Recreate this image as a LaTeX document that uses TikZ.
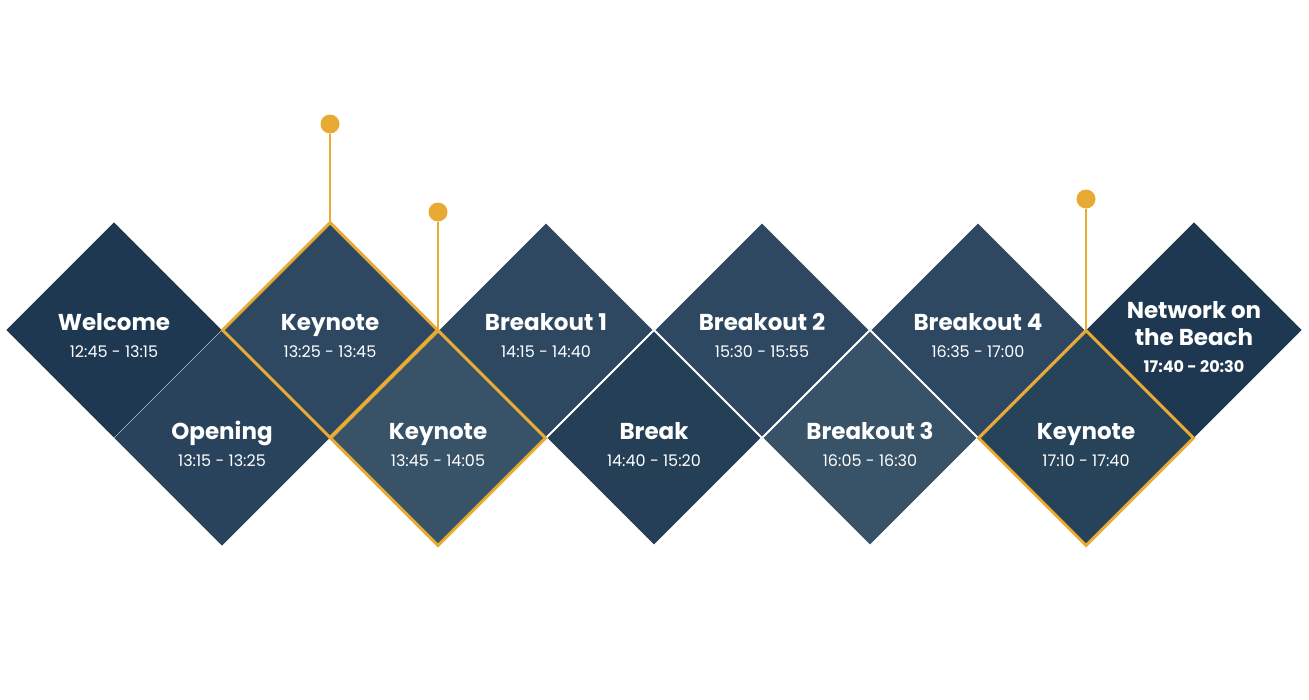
\documentclass[tikz,border=0pt]{standalone}
\usepackage{fontspec}
\setmainfont{Poppins}
\usetikzlibrary{shapes.geometric}

\definecolor{navyA}{HTML}{1E3852}
\definecolor{navyB}{HTML}{29435C}
\definecolor{navyC}{HTML}{2E4861}
\definecolor{navyD}{HTML}{385268}
\definecolor{navyE}{HTML}{253F57}
\definecolor{navyF}{HTML}{27435A}
\definecolor{gold}{HTML}{E8AA33}

\tikzset{
  slot/.style={diamond, aspect=1, minimum width=216pt, minimum height=216pt,
    inner sep=0pt, draw=white, line width=1.5pt},
  plain/.style={slot, draw=none},
  keyslot/.style={slot, draw=gold, line width=3pt},
  title/.style={text=white, anchor=base, font=\bfseries\fontsize{23}{26}\selectfont, align=center},
  hour/.style={text=white, anchor=base, font=\fontsize{16}{18}\selectfont},
  pin/.style={circle, fill=gold, minimum size=19pt, inner sep=0pt},
  stem/.style={draw=gold, line width=2.5pt}
}

\begin{document}
\begin{tikzpicture}[x=1pt, y=-1pt]
  \useasboundingbox (0,0) rectangle (1309,699);

  % diamonds, back to front
  \node[plain, fill=navyA] (welcome) at (114,330) {};
  \node[plain, fill=navyB] (opening) at (222,438) {};
  \node[slot, fill=navyC] (brk1) at (546,330) {};
  \node[slot, fill=navyE] (pause) at (654,438) {};
  \node[slot, fill=navyC] (brk2) at (762,330) {};
  \node[slot, fill=navyD] (brk3) at (870,438) {};
  \node[slot, fill=navyC] (brk4) at (978,330) {};
  \node[plain, fill=navyA] (beach) at (1194,330) {};
  \node[keyslot, fill=navyC] (key1) at (330,330) {};
  \node[keyslot, fill=navyD] (key2) at (438,438) {};
  \node[keyslot, fill=navyF] (key3) at (1086,438) {};

  % pins
  \node[pin] (pin1) at (330,124) {};
  \node[pin] (pin2) at (438,212) {};
  \node[pin] (pin3) at (1086,199) {};
  \draw[stem] (pin1) -- (key1.north);
  \draw[stem] (pin2) -- (key2.north);
  \draw[stem] (pin3) -- (key3.north);

  % texts
  \node[title] (welcomeT) at (114,330) {Welcome};
  \node[hour] (welcomeH) at (114,357) {12:45 - 13:15};
  \node[title] (openingT) at (222,439) {Opening};
  \node[hour] (openingH) at (222,466) {13:15 - 13:25};
  \node[title] (key1T) at (330,330) {Keynote};
  \node[hour] (key1H) at (330,357) {13:25 - 13:45};
  \node[title] (key2T) at (438,439) {Keynote};
  \node[hour] (key2H) at (438,466) {13:45 - 14:05};
  \node[title] (brk1T) at (546,330) {Breakout 1};
  \node[hour] (brk1H) at (546,357) {14:15 - 14:40};
  \node[title] (pauseT) at (654,439) {Break};
  \node[hour] (pauseH) at (654,466) {14:40 - 15:20};
  \node[title] (brk2T) at (762,330) {Breakout 2};
  \node[hour] (brk2H) at (762,357) {15:30 - 15:55};
  \node[title] (brk3T) at (870,439) {Breakout 3};
  \node[hour] (brk3H) at (870,466) {16:05 - 16:30};
  \node[title] (brk4T) at (978,330) {Breakout 4};
  \node[hour] (brk4H) at (978,357) {16:35 - 17:00};
  \node[title] (key3T) at (1086,439) {Keynote};
  \node[hour] (key3H) at (1086,466) {17:10 - 17:40};
  \node[title] (beachT1) at (1194,318) {Network on};
  \node[title] (beachT2) at (1194,345) {the Beach};
  \node[hour, font=\bfseries\fontsize{16}{18}\selectfont] (beachH) at (1194,372) {17:40 - 20:30};
\end{tikzpicture}
\end{document}
